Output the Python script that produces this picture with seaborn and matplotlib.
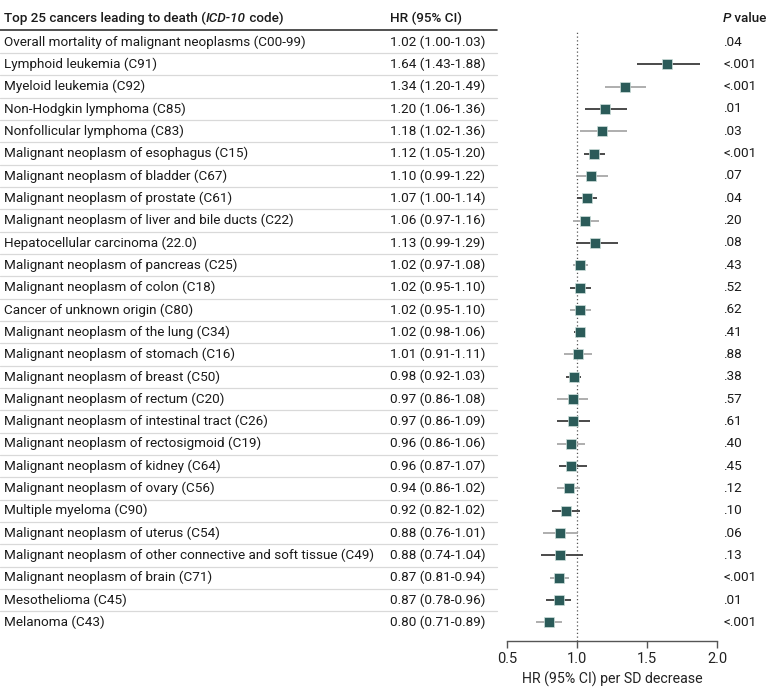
import matplotlib
matplotlib.use("Agg")
import matplotlib.pyplot as plt
import matplotlib.transforms as mtransforms
import seaborn as sns
import pandas as pd
import numpy as np

labels = [
    "Overall mortality of malignant neoplasms (C00-99)",
    "Lymphoid leukemia (C91)",
    "Myeloid leukemia (C92)",
    "Non-Hodgkin lymphoma (C85)",
    "Nonfollicular lymphoma (C83)",
    "Malignant neoplasm of esophagus (C15)",
    "Malignant neoplasm of bladder (C67)",
    "Malignant neoplasm of prostate (C61)",
    "Malignant neoplasm of liver and bile ducts (C22)",
    "Hepatocellular carcinoma (22.0)",
    "Malignant neoplasm of pancreas (C25)",
    "Malignant neoplasm of colon (C18)",
    "Cancer of unknown origin (C80)",
    "Malignant neoplasm of the lung (C34)",
    "Malignant neoplasm of stomach (C16)",
    "Malignant neoplasm of breast (C50)",
    "Malignant neoplasm of rectum (C20)",
    "Malignant neoplasm of intestinal tract (C26)",
    "Malignant neoplasm of rectosigmoid (C19)",
    "Malignant neoplasm of kidney (C64)",
    "Malignant neoplasm of ovary (C56)",
    "Multiple myeloma (C90)",
    "Malignant neoplasm of uterus (C54)",
    "Malignant neoplasm of other connective and soft tissue (C49)",
    "Malignant neoplasm of brain (C71)",
    "Mesothelioma (C45)",
    "Melanoma (C43)",
]
hr = [1.02, 1.64, 1.34, 1.20, 1.18, 1.12, 1.10, 1.07, 1.06, 1.13, 1.02, 1.02, 1.02,
      1.02, 1.01, 0.98, 0.97, 0.97, 0.96, 0.96, 0.94, 0.92, 0.88, 0.88, 0.87, 0.87, 0.80]
lo = [1.00, 1.43, 1.20, 1.06, 1.02, 1.05, 0.99, 1.00, 0.97, 0.99, 0.97, 0.95, 0.95,
      0.98, 0.91, 0.92, 0.86, 0.86, 0.86, 0.87, 0.86, 0.82, 0.76, 0.74, 0.81, 0.78, 0.71]
hi = [1.03, 1.88, 1.49, 1.36, 1.36, 1.20, 1.22, 1.14, 1.16, 1.29, 1.08, 1.10, 1.10,
      1.06, 1.11, 1.03, 1.08, 1.09, 1.06, 1.07, 1.02, 1.02, 1.01, 1.04, 0.94, 0.96, 0.89]
pvals = [".04", "<.001", "<.001", ".01", ".03", "<.001", ".07", ".04", ".20", ".08",
         ".43", ".52", ".62", ".41", ".88", ".38", ".57", ".61", ".40", ".45", ".12",
         ".10", ".06", ".13", "<.001", ".01", "<.001"]
xticks = [0.5, 1.0, 1.5, 2.0]

sns.set_theme(style="white")
FONT = ["Roboto", "DejaVu Sans"]
plt.rcParams["font.family"] = FONT

W, H = 780, 690
fig = plt.figure(figsize=(W / 100, H / 100), dpi=100)

row0_px, step_px = 42.0, 22.32
ax_left, ax_right, ax_top, ax_bot = 507, 717, 30, 641
ax = fig.add_axes([ax_left / W, 1 - ax_bot / H, (ax_right - ax_left) / W, (ax_bot - ax_top) / H])
ax.set_ylim((ax_bot - row0_px) / step_px, (ax_top - row0_px) / step_px)
ax.set_xlim(0.5, 2.0)

df = pd.DataFrame({"label": labels, "hr": hr, "lo": lo, "hi": hi, "p": pvals})
df["row"] = np.arange(len(df))
plot_df = df.iloc[1:]

dark = "#3c3c3c"
gray = "#a8a8a8"
ci_colors = [dark if r % 2 == 1 else gray for r in plot_df["row"]]
ax.hlines(plot_df["row"], plot_df["lo"], plot_df["hi"], colors=ci_colors, lw=1.3, zorder=2)
ax.axvline(1.0, color="#555555", lw=0.9, ls=(0, (1, 2)), zorder=1)
sns.scatterplot(data=plot_df, x="hr", y="row", marker="s", s=62, color="#2b5b59",
                edgecolor="#cfe0dc", linewidth=0.5, ax=ax, zorder=3, legend=False)

for s in ["top", "right", "left"]:
    ax.spines[s].set_visible(False)
ax.spines["bottom"].set_color("#555555")
ax.spines["bottom"].set_linewidth(1.0)
ax.set_xticks(xticks)
ax.set_xticklabels([f"{t:.1f}" for t in xticks], fontsize=10.5, color="#222222")
ax.tick_params(axis="x", bottom=True, length=5, width=1.0, color="#555555", pad=3)
ax.set_yticks([])
ax.set_ylabel("")
ax.set_xlabel("HR (95% CI) per SD decrease", fontsize=10.2, color="#222222", labelpad=4)
ax.set_facecolor("none")

trans = mtransforms.blended_transform_factory(fig.transFigure, ax.transData)
fs = 9.7
txtc = "#1a1a1a"
x_lab, x_hr, x_p = 4 / W, 390 / W, 723 / W
for r, row in df.iterrows():
    ax.text(x_lab, row["row"], row["label"], transform=trans, fontsize=fs, color=txtc,
            va="center", ha="left", clip_on=False)
    hr_txt = f"{row['hr']:.2f} ({row['lo']:.2f}-{row['hi']:.2f})"
    ax.text(x_hr, row["row"], hr_txt, transform=trans, fontsize=fs, color=txtc,
            va="center", ha="left", clip_on=False)
    ax.text(x_p, row["row"], row["p"], transform=trans, fontsize=fs, color=txtc,
            va="center", ha="left", clip_on=False)

# separators
sep_x1 = 497 / W
for r in range(len(df) - 1):
    ax.plot([0, sep_x1], [r + 0.5, r + 0.5], transform=trans, color="#d9d9d9", lw=0.9,
            clip_on=False, zorder=0)
hdr_y = (18 - row0_px) / step_px
line_y = (30 - row0_px) / step_px
ax.plot([0, sep_x1], [line_y, line_y], transform=trans, color="#333333", lw=1.2, clip_on=False)

# headers with italic parts
fig.canvas.draw()
renderer = fig.canvas.get_renderer()

def rich(x, y, parts):
    cur = x
    for txt, style in parts:
        t = ax.text(cur, y, txt, transform=trans, fontsize=fs, color=txtc, va="center",
                    ha="left", fontweight=500, fontstyle=style, clip_on=False)
        bb = t.get_window_extent(renderer=renderer)
        cur += bb.width / W

rich(x_lab, hdr_y, [("Top 25 cancers leading to death (", "normal"), ("ICD-10", "italic"),
                    (" code)", "normal")])
rich(x_hr, hdr_y, [("HR (95% CI)", "normal")])
rich(x_p, hdr_y, [("P", "italic"), (" value", "normal")])

fig.savefig("out.png", dpi=100)
